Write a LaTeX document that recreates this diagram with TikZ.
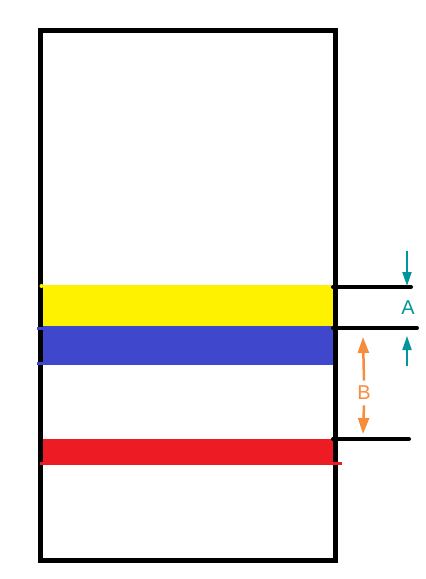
\documentclass[tikz,border=0pt]{standalone}
\usepackage{fontspec}
\setmainfont{Liberation Sans}
\usetikzlibrary{arrows.meta}
\definecolor{bandyellow}{RGB}{255,242,0}
\definecolor{bandblue}{RGB}{63,72,204}
\definecolor{bandred}{RGB}{237,28,36}
\definecolor{markteal}{RGB}{0,150,155}
\definecolor{markorange}{RGB}{247,140,60}
\begin{document}
\begin{tikzpicture}
 	[x=1pt,y=-1pt,
 	 wall/.style={draw=black,line width=5pt},
 	 level/.style={black,line width=4pt},
 	 edge/.style={line width=3pt},
 	 tealarrow/.style={-{Triangle[width=9pt,length=14pt]},line width=2pt,markteal},
 	 orangearrow/.style={-{Triangle[width=11pt,length=16pt]},line width=2.5pt,markorange},
 	 tag/.style={font=\fontsize{20}{20}\selectfont}]
 	\useasboundingbox (0,0) rectangle (426,579);
 	% bands
 	\fill[bandyellow] (42,285) rectangle (333,326);
 	\fill[bandblue] (42,326) rectangle (333,364);
 	\fill[bandred] (42,439) rectangle (333,465);
 	% container
 	\draw[wall] (40.5,30.5) rectangle (335.5,560);
 	\draw[edge,bandblue] (37,328) -- (333,328);
 	\draw[edge,bandblue] (37,363.5) -- (333,363.5);
 	\draw[edge,bandred] (40,463.5) -- (342,463.5);
 	\fill[bandyellow] (41.5,286) circle (2pt);
 	% levels
 	\coordinate (y1) at (333,287);
 	\coordinate (y2) at (333,328);
 	\coordinate (r1) at (333,439);
 	\coordinate (y1end) at (411,287);
 	\coordinate (y2end) at (417,328);
 	\coordinate (r1end) at (409,439);
 	\draw[level,line cap=round] (y1) -- (y1end);
 	\draw[level,line cap=round] (y2) -- (y2end);
 	\draw[level,line cap=round] (r1) -- (r1end);
 	% labels
 	\node[tag,markteal,name=A] at (408,308) {A};
 	\node[tag,markorange,name=B] at (364,393) {B};
 	\coordinate (aTop) at (407,251);
 	\coordinate (aTip) at (407,286);
 	\coordinate (aBot) at (407,366);
 	\coordinate (aTip2) at (407,336);
 	\draw[tealarrow] (aTop) -- (aTip);
 	\draw[tealarrow] (aBot) -- (aTip2);
 	\draw[orangearrow] (B.north) ++(0,-2) -- (363,337);
 	\draw[orangearrow] (B.south) ++(0,2) -- (363,434);
 	\end{tikzpicture}
\end{document}
